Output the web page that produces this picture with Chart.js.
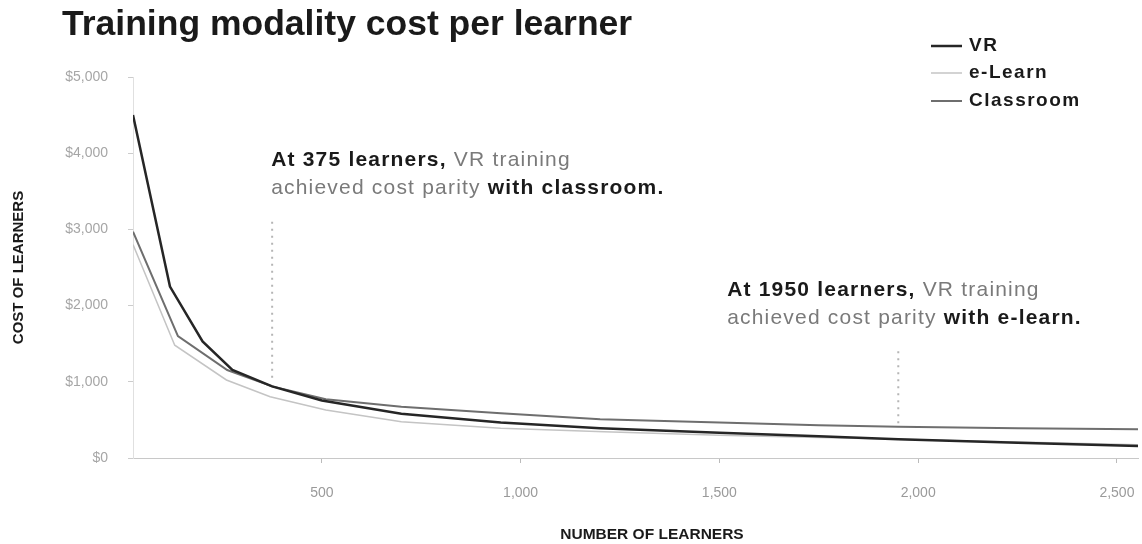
<!DOCTYPE html>
<html>
<head>
<meta charset="utf-8">
<script src="https://cdn.jsdelivr.net/npm/chart.js@4/dist/chart.umd.min.js"></script>
<style>
  html, body { margin: 0; padding: 0; background: #fff; }
  #wrap { width: 1142px; height: 544px; }
</style>
</head>
<body>
<div id="wrap"><canvas id="costChart" width="1142" height="544"></canvas></div>
<script>
// values (learners on x, cost per learner in $ on y)
const vrLearners = [25, 118, 200, 275, 375, 500, 700, 950, 1200, 1500, 1750, 1950, 2250, 2553];
const vrCost = [4500, 2250, 1530, 1155, 940, 755, 580, 465, 392, 330, 285, 245, 200, 158];

const elearnLearners = [25, 130, 260, 370, 510, 700, 950, 1210, 1500, 1750, 1950, 2250, 2553];
const elearnCost = [2800, 1480, 1024, 805, 630, 476, 390, 345, 300, 270, 245, 210, 175];

const classroomLearners = [25, 138, 262, 375, 510, 700, 950, 1200, 1500, 1750, 1950, 2250, 2553];
const classroomCost = [2970, 1600, 1155, 940, 770, 673, 586, 510, 465, 430, 410, 392, 376];

const parityLearners = [375, 1950];
const parityTop = [3100, 1400];
const parityBottom = [1000, 430];

const xTickValues = [500, 1000, 1500, 2000, 2500];
const seriesNames = ["VR", "e-Learn", "Classroom"];

const FONT = "'Liberation Sans', Arial, sans-serif";

function toPoints(xs, ys) {
  return xs.map((x, i) => ({ x: x, y: ys[i] }));
}

const parityDatasets = parityLearners.map((l, i) => ({
  label: "parity",
  data: [{ x: l, y: parityTop[i] }, { x: l, y: parityBottom[i] }],
  borderColor: "#b5b5b5",
  borderWidth: 2,
  borderDash: [2, 5],
  pointRadius: 0,
  isMarker: true,
}));

// title, legend, x axis title and the two notes
const extrasPlugin = {
  id: "extras",
  afterDraw(chart) {
    const ctx = chart.ctx;
    const xs = chart.scales.x;
    const ys = chart.scales.y;
    ctx.save();
    ctx.textBaseline = "middle";
    ctx.textAlign = "left";

    ctx.font = "bold 35.5px " + FONT;
    ctx.fillStyle = "#1a1a1a";
    ctx.fillText("Training modality cost per learner", 62, 25);

    // x axis title sits a bit right of the plot centre in the original
    ctx.font = "bold 15.5px " + FONT;
    ctx.textAlign = "center";
    ctx.fillText("NUMBER OF LEARNERS", 652, 535);
    ctx.textAlign = "left";

    // legend
    const legendY = [46, 73, 101];
    ctx.letterSpacing = "1.5px";
    chart.data.datasets.forEach((ds, i) => {
      if (ds.isMarker) return;
      const y = legendY[i];
      ctx.strokeStyle = ds.borderColor;
      ctx.lineWidth = ds.borderWidth;
      ctx.beginPath();
      ctx.moveTo(931, y);
      ctx.lineTo(962, y);
      ctx.stroke();
      ctx.font = "bold 19px " + FONT;
      ctx.fillStyle = "#1a1a1a";
      ctx.fillText(ds.label, 969, y);
    });

    const bold = "bold 21px " + FONT;
    const normal = "21px " + FONT;
    ctx.letterSpacing = "1.2px";
    const notes = [
      {
        at: [375, 3910],
        lines: [
          [["At 375 learners,", bold, "#1a1a1a"], [" VR training", normal, "#7a7a7a"]],
          [["achieved cost parity", normal, "#7a7a7a"], [" with classroom.", bold, "#1a1a1a"]],
        ],
      },
      {
        at: [1522, 2205],
        lines: [
          [["At 1950 learners,", bold, "#1a1a1a"], [" VR training", normal, "#7a7a7a"]],
          [["achieved cost parity", normal, "#7a7a7a"], [" with e-learn.", bold, "#1a1a1a"]],
        ],
      },
    ];
    notes.forEach((n) => {
      const x0 = xs.getPixelForValue(n.at[0]) - 1;
      let y = ys.getPixelForValue(n.at[1]);
      n.lines.forEach((runs) => {
        let x = x0;
        runs.forEach((r) => {
          ctx.font = r[1];
          ctx.fillStyle = r[2];
          ctx.fillText(r[0], x, y);
          x += ctx.measureText(r[0]).width;
        });
        y += 28;
      });
    });
    ctx.restore();
  },
};

const ctx = document.getElementById("costChart").getContext("2d");
new Chart(ctx, {
  type: "line",
  data: {
    datasets: [
      {
        label: seriesNames[0],
        data: toPoints(vrLearners, vrCost),
        borderColor: "#262626",
        borderWidth: 2.5,
        pointRadius: 0,
        tension: 0,
      },
      {
        label: seriesNames[1],
        data: toPoints(elearnLearners, elearnCost),
        borderColor: "#c4c4c4",
        borderWidth: 1.5,
        pointRadius: 0,
        tension: 0,
      },
      {
        label: seriesNames[2],
        data: toPoints(classroomLearners, classroomCost),
        borderColor: "#6e6e6e",
        borderWidth: 2,
        pointRadius: 0,
        tension: 0,
      },
      ...parityDatasets,
    ],
  },
  options: {
    responsive: false,
    animation: false,
    layout: { padding: { top: 77, right: 4, left: 0, bottom: 0 } },
    plugins: {
      legend: { display: false },
      tooltip: { enabled: false },
    },
    scales: {
      x: {
        type: "linear",
        min: 25,
        max: 2553,
        afterBuildTicks: (scale) => {
          scale.ticks = xTickValues.map((v) => ({ value: v }));
        },
        afterFit: (scale) => {
          scale.height = 86;
          scale.paddingLeft = 0;
          scale.paddingRight = 0;
        },
        ticks: {
          color: "#9a9a9a",
          padding: 22,
          font: { family: FONT, size: 14 },
          callback: (v) => v.toLocaleString("en-US"),
        },
        grid: { drawOnChartArea: false, drawTicks: true, tickLength: 5, color: "#bbb" },
        border: { display: true, color: "#c8c8c8", dash: [2, 2] },
        title: { display: false },
      },
      y: {
        min: 0,
        max: 5000,
        afterFit: (scale) => {
          scale.width = 133;
        },
        ticks: {
          stepSize: 1000,
          color: "#a6a6a6",
          padding: 20,
          font: { family: FONT, size: 14 },
          callback: (v) => "$" + v.toLocaleString("en-US"),
        },
        grid: { drawOnChartArea: false, drawTicks: true, tickLength: 5, color: "#ccc" },
        border: { display: true, color: "#e0e0e0" },
        title: {
          display: true,
          text: "COST OF LEARNERS",
          color: "#1a1a1a",
          font: { family: FONT, size: 15, weight: "bold" },
          padding: { top: 10, bottom: 0 },
        },
      },
    },
  },
  plugins: [extrasPlugin],
});
</script>
</body>
</html>
